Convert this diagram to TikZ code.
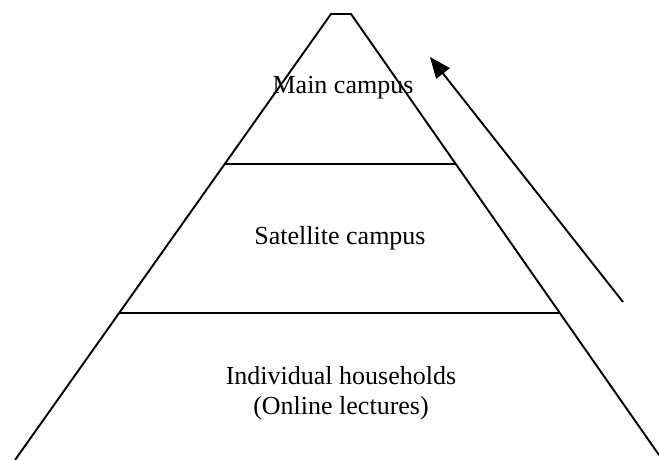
\documentclass[tikz,border=0pt]{standalone}
\usepackage{fontspec}
\setmainfont{Liberation Serif}
\usepackage{tikz}
\usetikzlibrary{arrows.meta}

\begin{document}
\begin{tikzpicture}[x=1pt, y=-1pt, line width=1.9pt,
    every node/.style={font=\fontsize{26}{30}\selectfont, align=center}]
    \useasboundingbox (0,0) rectangle (659,460);
    \coordinate (tl) at (331,14);  \coordinate (tr) at (351,14);
    \coordinate (bl) at (15,460);  \coordinate (br) at (659,455);
    \coordinate (l1) at (225,164); \coordinate (r1) at (455,164);
    \coordinate (l2) at (120,313); \coordinate (r2) at (559,313);
    \coordinate (tail) at (623,302); \coordinate (tip) at (430,57);
    \draw (bl) -- (tl) -- (tr) -- (br);
    \draw (l1) -- (r1);  \draw (l2) -- (r2);
    \node (main) at (343,88)  {Main campus};
    \node (sat)  at (340,238) {Satellite campus};
    \node (ind)  at (341,393) {Individual households\\(Online lectures)};
    \draw[-{Triangle[length=21pt, width=17pt]}] (tail) -- (tip);
  \end{tikzpicture}
\end{document}
